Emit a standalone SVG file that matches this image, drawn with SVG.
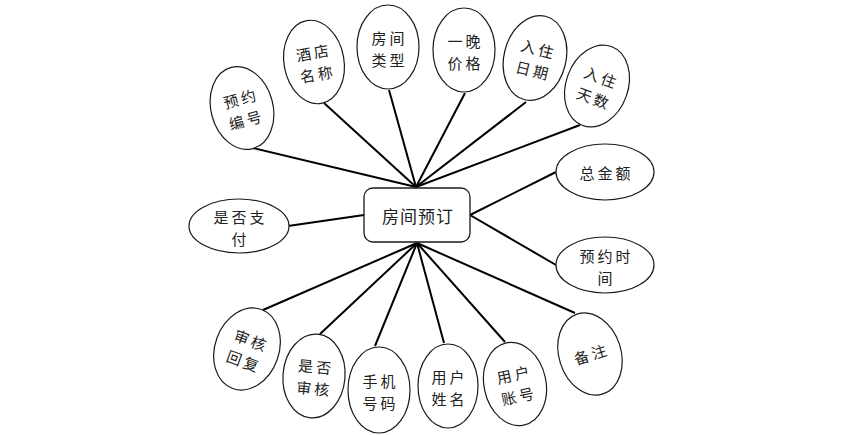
<svg xmlns="http://www.w3.org/2000/svg" width="865" height="435" viewBox="0 0 865 435">
<style>
.e{fill:#fff;stroke:#1a1a1a;stroke-width:1.2}
.t{font-family:"Noto Sans CJK SC","Liberation Sans",sans-serif;font-size:15px;fill:#222;text-anchor:middle;dominant-baseline:central;letter-spacing:3px}
.c line{stroke:#000;stroke-width:2}
</style>
<rect width="865" height="435" fill="#fff"/>
<g class="c" id="connectors">
<line x1="416" y1="187" x2="253" y2="148"/>
<line x1="416" y1="187" x2="324" y2="103"/>
<line x1="416" y1="187" x2="389" y2="90"/>
<line x1="416" y1="187" x2="465" y2="93"/>
<line x1="416" y1="187" x2="526" y2="102"/>
<line x1="416" y1="187" x2="580" y2="125"/>
<line x1="470" y1="215" x2="556" y2="172"/>
<line x1="470" y1="215" x2="556" y2="265"/>
<line x1="364" y1="215" x2="288" y2="226"/>
<line x1="417" y1="243" x2="575" y2="313"/>
<line x1="417" y1="243" x2="505" y2="342"/>
<line x1="417" y1="243" x2="444" y2="343"/>
<line x1="417" y1="243" x2="375" y2="346"/>
<line x1="417" y1="243" x2="320" y2="334"/>
<line x1="417" y1="243" x2="263" y2="310"/>
</g>
<g id="hub">
<rect x="364" y="188" width="106" height="54" rx="9" fill="#fff" stroke="#1a1a1a" stroke-width="1.3"/>
<text x="418" y="215" class="t" style="font-size:17px;letter-spacing:1px">房间预订</text>
</g>
<g id="n1" transform="rotate(-15 242 108)">
<ellipse class="e" cx="242" cy="108" rx="31" ry="42"/>
<text class="t" x="243.5" y="98">预约</text><text class="t" x="243.5" y="120">编号</text>
</g>
<g id="n2" transform="rotate(-10 314 62)">
<ellipse class="e" cx="314" cy="62" rx="30" ry="42"/>
<text class="t" x="315.5" y="52">酒店</text><text class="t" x="315.5" y="74">名称</text>
</g>
<g id="n3">
<ellipse class="e" cx="388" cy="47" rx="31" ry="42"/>
<text class="t" x="389.5" y="37">房间</text><text class="t" x="389.5" y="59">类型</text>
</g>
<g id="n4">
<ellipse class="e" cx="464" cy="50" rx="31" ry="42"/>
<text class="t" x="465.5" y="40">一晚</text><text class="t" x="465.5" y="62">价格</text>
</g>
<g id="n5" transform="rotate(14 535 58)">
<ellipse class="e" cx="535" cy="58" rx="31" ry="43"/>
<text class="t" x="536.5" y="48">入住</text><text class="t" x="536.5" y="70">日期</text>
</g>
<g id="n6" transform="rotate(20 597 86)">
<ellipse class="e" cx="597" cy="86" rx="31" ry="42"/>
<text class="t" x="598.5" y="76">入住</text><text class="t" x="598.5" y="98">天数</text>
</g>
<g id="n7">
<ellipse class="e" cx="605" cy="172" rx="49" ry="28"/>
<text class="t" x="606.5" y="172">总金额</text>
</g>
<g id="n8">
<ellipse class="e" cx="605" cy="265" rx="49" ry="28"/>
<text class="t" x="606.5" y="255">预约时</text><text class="t" x="606.5" y="277">间</text>
</g>
<g id="n9">
<ellipse class="e" cx="239" cy="226" rx="50" ry="27"/>
<text class="t" x="240.5" y="216">是否支</text><text class="t" x="240.5" y="238">付</text>
</g>
<g id="n10" transform="rotate(-18 590 354)">
<ellipse class="e" cx="590" cy="354" rx="31" ry="42"/>
<text class="t" x="591.5" y="354">备注</text>
</g>
<g id="n11" transform="rotate(-12 515 384)">
<ellipse class="e" cx="515" cy="384" rx="31" ry="42"/>
<text class="t" x="516.5" y="374">用户</text><text class="t" x="516.5" y="396">账号</text>
</g>
<g id="n12">
<ellipse class="e" cx="448" cy="386" rx="30" ry="42"/>
<text class="t" x="449.5" y="376">用户</text><text class="t" x="449.5" y="398">姓名</text>
</g>
<g id="n13">
<ellipse class="e" cx="379" cy="390" rx="31" ry="43"/>
<text class="t" x="380.5" y="380">手机</text><text class="t" x="380.5" y="402">号码</text>
</g>
<g id="n14" transform="rotate(5 314 376)">
<ellipse class="e" cx="314" cy="376" rx="31" ry="42"/>
<text class="t" x="315.5" y="366">是否</text><text class="t" x="315.5" y="388">审核</text>
</g>
<g id="n15" transform="rotate(20 247 349)">
<ellipse class="e" cx="247" cy="349" rx="32" ry="42"/>
<text class="t" x="248.5" y="339">审核</text><text class="t" x="248.5" y="361">回复</text>
</g>
</svg>
